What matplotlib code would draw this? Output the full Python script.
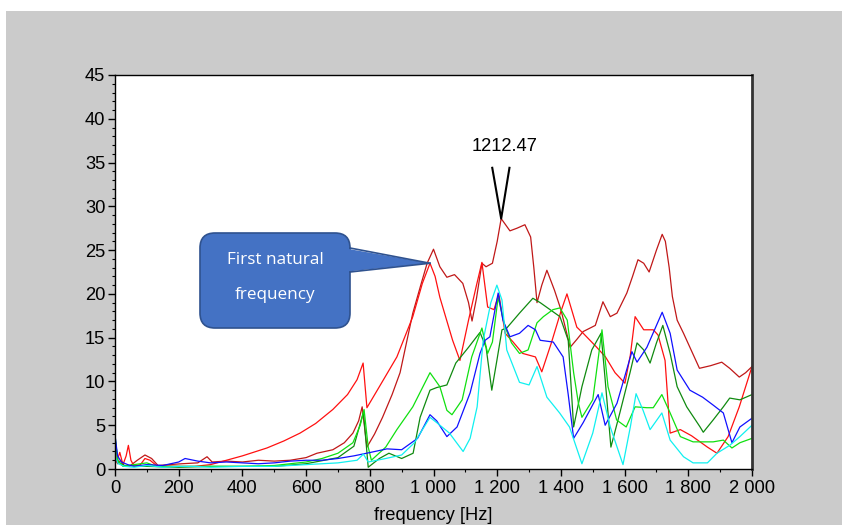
import matplotlib
matplotlib.use("Agg")
import matplotlib.pyplot as plt
import matplotlib.transforms as mtransforms
from matplotlib.patches import FancyBboxPatch, Polygon, Rectangle
from matplotlib.lines import Line2D
from matplotlib.ticker import MultipleLocator, FuncFormatter

# ---- spectra of the six channels (frequency [Hz], amplitude) ----
freq_dark_red = [0, 8, 18, 28, 45, 70, 94, 115, 135, 170, 210, 260, 289, 305, 350, 400, 450, 500,
                 550, 600, 634, 684, 720, 747, 765, 776, 791, 815, 840, 870, 895, 935, 960, 980,
                 1000, 1020, 1042, 1066, 1092, 1110, 1121, 1135, 1152, 1165, 1185, 1200, 1212.47,
                 1240, 1262, 1287, 1305, 1315, 1325, 1340, 1356, 1380, 1400, 1415, 1429, 1450,
                 1470, 1508, 1532, 1555, 1576, 1607, 1625, 1642, 1660, 1677, 1700, 1718, 1728,
                 1740, 1750, 1765, 1785, 1810, 1835, 1870, 1905, 1930, 1960, 1980, 2000]
amp_dark_red = [1.5, 0.6, 1.0, 0.4, 0.3, 1.0, 1.6, 1.2, 0.4, 0.5, 0.6, 0.7, 1.4, 0.8, 0.9, 0.8, 1.0, 0.9,
                1.0, 1.3, 1.8, 2.2, 3.0, 4.1, 5.5, 7.1, 2.5, 4.0, 5.9, 8.5, 11.0, 17.8, 21.0, 23.5,
                25.1, 23.1, 21.9, 22.2, 21.2, 19.0, 16.9, 19.5, 23.5, 23.1, 23.5, 26.0, 28.6,
                27.2, 27.5, 27.9, 26.5, 23.0, 19.0, 21.0, 22.7, 20.4, 18.2, 16.0, 13.9, 14.8,
                15.7, 16.4, 19.1, 17.4, 17.8, 20.1, 22.0, 23.9, 23.5, 22.5, 25.0, 26.8, 26.0,
                23.0, 19.7, 17.0, 15.5, 13.5, 11.5, 11.8, 12.2, 11.5, 10.5, 11.0, 11.7]

freq_red = [0, 5, 15, 25, 35, 42, 50, 60, 80, 94, 110, 130, 200, 250, 300, 320, 360, 400, 477, 530,
            581, 630, 684, 730, 760, 779, 791, 830, 885, 935, 965, 989, 1005, 1020, 1060, 1083, 1110,
            1135, 1152, 1170, 1190, 1205, 1225, 1250, 1280, 1320, 1340, 1370, 1400, 1419, 1450,
            1470, 1510, 1540, 1570, 1601, 1618, 1633, 1660, 1690, 1705, 1727, 1743, 1775, 1810,
            1860, 1890, 1925, 1960, 2000]
amp_red = [2.0, 0.8, 1.9, 0.5, 1.5, 2.7, 1.0, 0.3, 0.5, 1.2, 1.0, 0.4, 0.3, 0.3, 0.5, 0.7, 1.1, 1.5, 2.4, 3.2,
           4.1, 5.2, 6.8, 8.5, 10.2, 12.1, 7.0, 9.4, 12.8, 17.4, 21.2, 23.5, 22.0, 19.6, 14.7, 12.4, 17.0,
           21.0, 23.6, 18.5, 18.2, 20.0, 15.5, 14.5, 13.2, 12.8, 11.1, 14.4, 18.0, 20.0, 16.2,
           15.5, 14.0, 12.8, 11.0, 9.8, 13.0, 17.4, 15.9, 15.9, 15.3, 12.4, 4.1, 4.5, 3.8,
           2.5, 1.8, 3.7, 7.1, 11.7]

freq_blue = [0, 8, 20, 40, 60, 100, 150, 200, 220, 260, 300, 350, 400, 450, 500, 550, 600, 650, 700,
             750, 790, 854, 900, 950, 989, 1010, 1042, 1074, 1115, 1146, 1162, 1177, 1203, 1218,
             1240, 1270, 1297, 1320, 1335, 1376, 1407, 1423, 1440, 1470, 1517, 1539, 1576, 1623,
             1639, 1670, 1718, 1743, 1765, 1805, 1845, 1878, 1910, 1937, 1962, 2000]
amp_blue = [3.9, 1.5, 0.8, 0.5, 0.3, 0.5, 0.4, 0.8, 1.2, 0.9, 0.7, 0.8, 0.7, 0.6, 0.7, 0.9, 1.0, 1.0, 1.2,
            1.5, 1.8, 2.3, 2.2, 3.5, 6.2, 5.5, 3.7, 4.8, 8.7, 13.2, 14.7, 15.1, 20.1, 17.0,
            15.1, 15.5, 16.4, 15.9, 14.7, 14.5, 12.8, 8.5, 3.5, 5.3, 8.5, 5.0, 7.5, 13.4,
            12.2, 13.9, 17.9, 15.5, 11.3, 9.0, 8.2, 7.3, 6.4, 3.0, 4.8, 5.8]

freq_cyan = [0, 10, 30, 60, 100, 150, 200, 250, 300, 400, 500, 600, 700, 760, 780, 795, 850, 900, 940,
             989, 1010, 1050, 1093, 1115, 1137, 1156, 1180, 1199, 1215, 1230, 1270, 1300, 1325, 1356,
             1396, 1427, 1466, 1500, 1529, 1555, 1595, 1618, 1636, 1658, 1680, 1717, 1743, 1785,
             1815, 1860, 1890, 1930, 1962, 2000]
amp_cyan = [1.5, 0.6, 0.3, 0.2, 0.4, 0.2, 0.3, 0.3, 0.2, 0.3, 0.3, 0.5, 0.7, 1.0, 1.7, 0.8, 1.2, 1.6, 3.0,
            5.9, 5.3, 4.1, 2.0, 3.5, 7.1, 14.7, 19.0, 21.0, 19.3, 13.6, 9.9, 9.6, 11.7, 8.2,
            6.4, 4.8, 0.6, 4.1, 8.7, 4.8, 0.5, 4.8, 8.6, 6.7, 4.5, 6.4, 3.3, 1.4,
            0.7, 0.7, 1.8, 2.7, 3.7, 5.0]

freq_green = [0, 8, 25, 60, 100, 130, 200, 300, 400, 500, 600, 650, 700, 747, 770, 782, 795, 805, 850,
              885, 935, 989, 1020, 1042, 1058, 1090, 1120, 1152, 1170, 1185, 1203, 1225, 1245, 1270,
              1297, 1325, 1345, 1375, 1397, 1420, 1440, 1455, 1466, 1500, 1529, 1548, 1575, 1605,
              1633, 1670, 1690, 1717, 1743, 1775, 1815, 1878, 1910, 1937, 1962, 2000]
amp_green = [3.9, 1.0, 0.3, 0.5, 0.7, 0.3, 0.3, 0.3, 0.3, 0.4, 0.8, 1.2, 1.8, 3.0, 5.0, 6.8, 2.5, 1.0, 2.5,
             4.5, 7.1, 11.0, 9.4, 6.7, 6.2, 7.9, 12.8, 16.1, 13.2, 14.5, 19.6, 16.2, 14.4, 13.2,
             13.6, 16.7, 17.4, 18.2, 18.4, 17.0, 11.0, 7.5, 5.9, 7.9, 15.9, 9.4, 5.6, 4.8,
             7.1, 7.0, 7.0, 8.5, 6.4, 3.7, 3.1, 3.1, 3.3, 2.4, 3.0, 3.5]

freq_dark_green = [0, 10, 30, 100, 200, 300, 400, 500, 600, 700, 750, 780, 795, 830, 860, 900, 936, 958,
                   989, 1010, 1042, 1070, 1110, 1146, 1165, 1183, 1199, 1215, 1230, 1270, 1312, 1335,
                   1366, 1397, 1423, 1440, 1466, 1497, 1526, 1539, 1557, 1585, 1617, 1639, 1660, 1680,
                   1700, 1720, 1743, 1765, 1795, 1837, 1847, 1878, 1910, 1930, 1962, 2000]
amp_dark_green = [3.5, 0.8, 0.4, 0.3, 0.2, 0.3, 0.3, 0.3, 0.6, 1.3, 2.6, 6.5, 0.2, 1.2, 1.8, 1.2, 1.8, 5.9,
                  9.0, 9.3, 9.6, 12.1, 13.9, 15.6, 13.9, 9.0, 12.4, 15.9, 16.1, 17.8, 19.5, 19.0,
                  18.2, 17.4, 14.7, 4.8, 9.4, 13.6, 15.5, 10.2, 2.5, 6.4, 11.0, 14.4, 13.6, 12.1,
                  14.4, 16.4, 13.2, 9.4, 7.1, 4.8, 4.2, 5.6, 7.1, 8.1, 7.9, 8.5]

peak_freq = 1212.47
peak_amp = 28.6
first_mode_freq = 989
first_mode_amp = 23.5

x_ticks = [0, 200, 400, 600, 800, 1000, 1200, 1400, 1600, 1800, 2000]
y_ticks = [0, 5, 10, 15, 20, 25, 30, 35, 40, 45]

W, H, DPI = 842, 525, 100
fig = plt.figure(figsize=(W / DPI, H / DPI), dpi=DPI, facecolor="white")

# grey page behind the plot
fig.patches.append(Rectangle((6 / W, 0), 1, (H - 11) / H, transform=fig.transFigure,
                             facecolor="#cbcbcb", edgecolor="none", zorder=-10))

ax = fig.add_axes([115 / W, (H - 469) / H, (752 - 115) / W, (469 - 75) / H])
ax.set_facecolor("white")

series = [
    (freq_dark_red, amp_dark_red, "#c01818"),
    (freq_red, amp_red, "#ff1010"),
    (freq_dark_green, amp_dark_green, "#108a10"),
    (freq_green, amp_green, "#10e010"),
    (freq_blue, amp_blue, "#1010ff"),
    (freq_cyan, amp_cyan, "#10f0f0"),
]
for f, a, c in series:
    ax.plot(f, a, color=c, lw=0.9, solid_joinstyle="round")

ax.set_xlim(0, 2000)
ax.set_ylim(0, 45)
ax.set_xticks(x_ticks)
ax.set_yticks(y_ticks)
ax.xaxis.set_minor_locator(MultipleLocator(100))
ax.yaxis.set_minor_locator(MultipleLocator(1))
ax.xaxis.set_major_formatter(FuncFormatter(lambda v, p: f"{int(v):,}".replace(",", " ")))

FS = 13.2
tick_font = {"family": "Liberation Sans", "size": FS}
for lab in ax.get_xticklabels() + ax.get_yticklabels():
    lab.set_fontfamily("Liberation Sans")
    lab.set_fontsize(FS)
ax.tick_params(which="major", direction="out", length=5, width=1, color="black", pad=2)
ax.tick_params(which="minor", direction="out", length=2.5, width=0.8, color="black")
ax.tick_params(axis="x", pad=3)

for side in ["left", "bottom", "top"]:
    ax.spines[side].set_linewidth(1.0)
ax.spines["right"].set_linewidth(2.0)
ax.spines["right"].set_color("#333333")

ax.set_xlabel("frequency [Hz]", fontdict=tick_font)
ax.xaxis.set_label_coords(0.5, -0.096)

# peak marker with value label
ax.plot([peak_freq - 28, peak_freq, peak_freq + 26],
        [peak_amp + 5.8, peak_amp, peak_amp + 5.8], color="black", lw=1.5, zorder=5)
ax.text(peak_freq + 12, peak_amp + 7.3, f"{peak_freq:.2f}", ha="center", va="bottom",
        fontfamily="Liberation Sans", fontsize=FS, zorder=6)

# callout pointing to the first natural frequency
px = mtransforms.IdentityTransform()


def P(x, y):
    return (x, H - y)


tip = ax.transData.transform((first_mode_freq, first_mode_amp))
box_fc, box_ec = "#4472c4", "#2f528f"
box = FancyBboxPatch(P(200, 328), 150, 95, boxstyle="round,pad=0,rounding_size=15",
                     transform=px, facecolor=box_fc, edgecolor=box_ec, lw=1.2, zorder=7)
fig.patches.append(box)
wedge = Polygon([P(343, 248), tuple(tip), P(343, 272)], closed=True, transform=px,
                facecolor=box_fc, edgecolor="none", zorder=8)
fig.patches.append(wedge)
for yb in (248, 272):
    fig.lines.append(Line2D([P(350, yb)[0], tip[0]], [P(350, yb)[1], tip[1]], transform=px,
                            color=box_ec, lw=1.2, zorder=9))
fig.text(275 / W, 1 - 260 / H, "First natural", ha="center", va="center", color="white",
         fontfamily="Open Sans", fontsize=12.3, zorder=10)
fig.text(275 / W, 1 - 295 / H, "frequency", ha="center", va="center", color="white",
         fontfamily="Open Sans", fontsize=12.3, zorder=10)

fig.savefig("out.png", dpi=DPI, facecolor=fig.get_facecolor())
